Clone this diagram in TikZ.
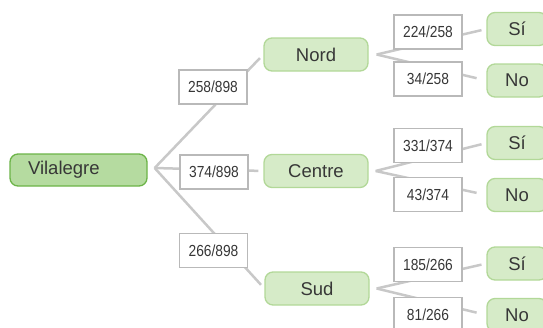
\documentclass[tikz,border=0pt]{standalone}
\usepackage{fontspec}
\setmainfont{Liberation Sans}
\newfontfamily\fracfont{Liberation Sans}[FakeStretch=0.86]
\usetikzlibrary{backgrounds}

\definecolor{rootfill}{RGB}{181,219,160}
\definecolor{rootdraw}{RGB}{108,180,72}
\definecolor{nodefill}{RGB}{214,235,200}
\definecolor{nodedraw}{RGB}{178,216,152}
\definecolor{linkgray}{RGB}{200,200,200}
\definecolor{boxgray}{RGB}{185,185,185}
\definecolor{textgray}{RGB}{55,55,55}

\begin{document}
\begin{tikzpicture}[x=1pt,y=-1pt,
        text=textgray,
        root node/.style={rounded corners=8pt,draw=rootdraw,fill=rootfill,line width=1.3pt,
            text width=101pt,align=left,inner xsep=18pt,
            minimum height=32pt,font=\fontsize{18.5}{20}\selectfont},
        city node/.style={rounded corners=8pt,draw=nodedraw,fill=nodefill,line width=1.3pt,
            minimum width=104pt,minimum height=33pt,font=\fontsize{18.5}{20}\selectfont},
        leaf node/.style={rounded corners=8pt,draw=nodedraw,fill=nodefill,line width=1.3pt,
            minimum width=60pt,minimum height=33pt,font=\fontsize{18.5}{20}\selectfont},
        frac node/.style={draw=boxgray,fill=white,line width=1.1pt,inner sep=0pt,
            minimum width=68pt,minimum height=34pt,font=\fracfont\fontsize{16}{18}\selectfont},
        link/.style={draw=linkgray,line width=2.5pt,shorten >=5pt}]

    \useasboundingbox (0,0) rectangle (543,327);

    % tree nodes
    \node[root node] (vila) at (78.5,170) {Vilalegre};
    \node[city node] (nord) at (316,54.5) {Nord};
    \node[city node] (centre) at (316,171) {Centre};
    \node[city node] (sud) at (317,288.5) {Sud};

    \node[leaf node] (nsi) at (517,29) {Sí};
    \node[leaf node] (nno) at (517,80.5) {No};
    \node[leaf node] (csi) at (517,143) {Sí};
    \node[leaf node] (cno) at (517,195) {No};
    \node[leaf node] (ssi) at (517,263.5) {Sí};
    \node[leaf node] (sno) at (517,315) {No};

    % forks
    \coordinate (f0) at ([xshift=7pt,yshift=2pt]vila.east);
    \coordinate (f1) at ([xshift=8pt]nord.east);
    \coordinate (f2) at ([xshift=7pt]centre.east);
    \coordinate (f3) at ([xshift=7pt]sud.east);

    % probabilities
    \node[frac node] (pnord) at (213,87) {258/898};
    \node[frac node] (pcentre) at (214,172) {374/898};
    \node[frac node] (psud) at (213.5,250.5) {266/898};
    \node[frac node] (pnsi) at (428,32) {224/258};
    \node[frac node] (pnno) at (428,79) {34/258};
    \node[frac node] (pcsi) at (428,145.5) {331/374};
    \node[frac node] (pcno) at (428,194.5) {43/374};
    \node[frac node] (pssi) at (428,264.5) {185/266};
    \node[frac node] (psno) at (428,314.5) {81/266};

    \begin{scope}[on background layer]
    \path[link]
    (f0) edge (nord.west)
    (f0) edge (centre.west)
    (f0) edge (sud.west)
    (f1) edge (nsi.west)
    (f1) edge [shorten >=10pt] (nno.west)
    (f2) edge (csi.west)
    (f2) edge [shorten >=10pt] (cno.west)
    (f3) edge (ssi.west)
    (f3) edge [shorten >=10pt] (sno.west)
    ;
    \end{scope}
\end{tikzpicture}
\end{document}
